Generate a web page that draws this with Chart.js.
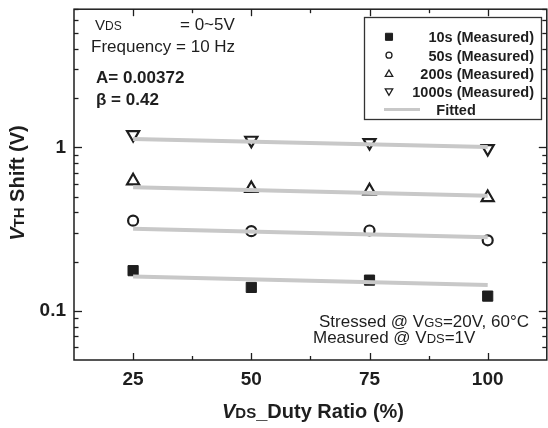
<!DOCTYPE html>
<html><head><meta charset="utf-8">
<script src="https://cdn.jsdelivr.net/npm/chart.js@4/dist/chart.umd.min.js"></script>
<style>
html,body{margin:0;padding:0;background:#fff;overflow:hidden;width:548px;height:428px}
#wrap{position:absolute;left:0;top:0;width:556px;height:428px}
</style>
</head><body><div id="wrap"><canvas id="c" width="556" height="428"></canvas></div>
<script>
// ---- data ----
const dutyRatio = [25, 50, 75, 100];
const measured10s = [0.176, 0.139, 0.154, 0.123];
const measured50s = [0.356, 0.307, 0.310, 0.270];
const measured200s = [0.624, 0.560, 0.542, 0.493];
const measured1000s = [1.197, 1.105, 1.070, 0.983];
const fitX = [25, 100];
const fit10s = [0.162, 0.144];
const fit50s = [0.318, 0.282];
const fit200s = [0.569, 0.505];
const fit1000s = [1.126, 1.006];
const xTickValues = [25, 50, 75, 100];
const xMinorTicks = [37.5, 62.5, 87.5];
const yTickValues = [0.1, 1];
const yMinorTicks = [0.06, 0.07, 0.08, 0.09, 0.2, 0.3, 0.4, 0.5, 0.6, 0.7, 0.8, 0.9, 2, 3, 4, 5, 6, 7];
const seriesLabels = ['10s (Measured)', '50s (Measured)', '200s (Measured)', '1000s (Measured)', 'Fitted'];

const FONT = '"Liberation Sans", Arial, Helvetica, sans-serif';
const INK = '#1e1e1e';
const FITC = '#c8c8c8';

const pts = (xs, ys) => xs.map((x, i) => ({x: x, y: ys[i]}));

const fitDs = (ys, lbl) => ({
  type: 'line', label: lbl, data: pts(fitX, ys), borderColor: FITC, borderWidth: 4,
  pointRadius: 0, showLine: true, fill: false, order: 0, borderCapStyle: 'butt'
});
const markerStyles = [
  {pointStyle: 'rect', pointRadius: 7.2, pointBackgroundColor: INK, pointBorderColor: INK, pointBorderWidth: 1, pointRotation: 0},
  {pointStyle: 'circle', pointRadius: 5, pointBackgroundColor: 'rgba(0,0,0,0)', pointBorderColor: INK, pointBorderWidth: 2.2, pointRotation: 0},
  {pointStyle: 'triangle', pointRadius: 7, pointBackgroundColor: 'rgba(0,0,0,0)', pointBorderColor: INK, pointBorderWidth: 2.2, pointRotation: 0},
  {pointStyle: 'triangle', pointRadius: 7, pointBackgroundColor: 'rgba(0,0,0,0)', pointBorderColor: INK, pointBorderWidth: 2.2, pointRotation: 180}
];
const measuredSets = [measured10s, measured50s, measured200s, measured1000s];
const ptDs = measuredSets.map((ys, i) => Object.assign({
  type: 'scatter', label: seriesLabels[i], data: pts(dutyRatio, ys), showLine: false, order: 1
}, markerStyles[i]));

function richWidth(ctx, parts) {
  let w = 0;
  for (const p of parts) { ctx.font = p.f; w += ctx.measureText(p.t).width; }
  return w;
}
function drawRich(ctx, parts, x, y, align) {
  let w = richWidth(ctx, parts);
  let cx = align === 'center' ? x - w / 2 : (align === 'right' ? x - w : x);
  ctx.textAlign = 'left';
  for (const p of parts) {
    ctx.font = p.f;
    ctx.fillText(p.t, cx, y + (p.dy || 0));
    cx += ctx.measureText(p.t).width;
  }
}

const deco = {
  id: 'deco',
  afterDatasetsDraw(chart) {
    const ctx = chart.ctx, a = chart.chartArea, xs = chart.scales.x, ys = chart.scales.y;
    ctx.save();
    ctx.strokeStyle = INK;
    const line = (x1, y1, x2, y2) => { ctx.beginPath(); ctx.moveTo(x1, y1); ctx.lineTo(x2, y2); ctx.stroke(); };
    // frame
    ctx.lineWidth = 1.5;
    ctx.strokeRect(a.left, a.top, a.right - a.left, a.bottom - a.top);
    ctx.lineWidth = 1.3;
    // x ticks (inward, top & bottom)
    for (const v of xTickValues) { const p = Math.round(xs.getPixelForValue(v)) + 0.5; line(p, a.bottom, p, a.bottom - 7); line(p, a.top, p, a.top + 7); }
    for (const v of xMinorTicks) { const p = Math.round(xs.getPixelForValue(v)) + 0.5; line(p, a.bottom, p, a.bottom - 4); line(p, a.top, p, a.top + 4); }
    // y ticks (inward, left & right)
    for (const v of yTickValues) { const p = Math.round(ys.getPixelForValue(v)) + 0.5; line(a.left, p, a.left + 8, p); line(a.right, p, a.right - 8, p); }
    for (const v of yMinorTicks) { const p = Math.round(ys.getPixelForValue(v)) + 0.5; line(a.left, p, a.left + 4.5, p); line(a.right, p, a.right - 4.5, p); }

    ctx.fillStyle = INK;
    ctx.textBaseline = 'alphabetic';
    // top-left annotations
    const R = s => s + 'px ' + FONT, B = s => 'bold ' + s + 'px ' + FONT, BI = s => 'italic bold ' + s + 'px ' + FONT;
    drawRich(ctx, [{t: 'V', f: R(15)}, {t: 'DS', f: R(12)}], 95, 30, 'left');
    drawRich(ctx, [{t: '= 0~5V', f: R(17)}], 180, 30, 'left');
    drawRich(ctx, [{t: 'Frequency = 10 Hz', f: R(17)}], 91, 51.5, 'left');
    drawRich(ctx, [{t: 'A= 0.00372', f: B(17)}], 96, 83, 'left');
    drawRich(ctx, [{t: '\u03B2 = 0.42', f: B(17)}], 96, 105, 'left');
    // bottom-right annotations
    drawRich(ctx, [{t: 'Stressed @ V', f: R(17)}, {t: 'GS', f: R(13)}, {t: '=20V, 60\u00B0C', f: R(17)}], 319, 326.5, 'left');
    drawRich(ctx, [{t: 'Measured @ V', f: R(17)}, {t: 'DS', f: R(13)}, {t: '=1V', f: R(17)}], 313, 343, 'left');

    // legend box
    ctx.fillStyle = '#fff';
    ctx.fillRect(364, 17, 178, 103);
    ctx.lineWidth = 1.3;
    ctx.strokeStyle = '#333';
    ctx.strokeRect(364.5, 17.5, 177, 102);
    ctx.fillStyle = INK; ctx.strokeStyle = INK;
    const rowsY = [42.3, 60.7, 79, 97.3, 115];
    const legMarkers = [
      {pointStyle: 'rect', radius: 5, rotation: 0, borderWidth: 1, fill: true},
      {pointStyle: 'circle', radius: 3, rotation: 0, borderWidth: 1.3, fill: false},
      {pointStyle: 'triangle', radius: 4.3, rotation: 0, borderWidth: 1.3, fill: false},
      {pointStyle: 'triangle', radius: 4.3, rotation: 180, borderWidth: 1.3, fill: false}
    ];
    for (let i = 0; i < 4; i++) {
      const m = legMarkers[i];
      ctx.fillStyle = m.fill ? INK : 'rgba(0,0,0,0)';
      ctx.strokeStyle = INK; ctx.lineWidth = m.borderWidth;
      Chart.helpers.drawPoint(ctx, m, 389, rowsY[i] - 5.5 + (i === 2 ? 0.8 : (i === 3 ? -0.8 : 0)));
    }
    ctx.fillStyle = INK;
    for (let i = 0; i < 4; i++) drawRich(ctx, [{t: seriesLabels[i], f: B(14.5)}], 534, rowsY[i], 'right');
    drawRich(ctx, [{t: seriesLabels[4], f: B(14.5)}], 456, rowsY[4], 'center');
    ctx.strokeStyle = FITC; ctx.lineWidth = 3;
    line(384, 109.5, 420, 109.5);

    // axis titles
    ctx.fillStyle = INK;
    drawRich(ctx, [{t: 'V', f: BI(20)}, {t: 'DS', f: B(15)}, {t: '_Duty Ratio (%)', f: B(20)}], 313, 418, 'center');
    ctx.save();
    ctx.translate(24, 183);
    ctx.rotate(-Math.PI / 2);
    drawRich(ctx, [{t: 'V', f: BI(20)}, {t: 'TH', f: B(15)}, {t: ' Shift (V)', f: B(20)}], 0, 0, 'center');
    ctx.restore();
    ctx.restore();
  }
};

new Chart(document.getElementById('c'), {
  type: 'scatter',
  data: {datasets: [fitDs(fit10s, 'Fitted'), fitDs(fit50s, 'Fitted'), fitDs(fit200s, 'Fitted'), fitDs(fit1000s, 'Fitted')].concat(ptDs)},
  options: {
    responsive: false, animation: false, devicePixelRatio: 1,
    layout: {padding: {top: 9, right: 6.5, left: 0, bottom: 0}},
    plugins: {legend: {display: false}, tooltip: {enabled: false}, title: {display: false}},
    scales: {
      x: {
        type: 'linear', min: 12.5, max: 112.5,
        grid: {display: false, drawTicks: false}, border: {display: false},
        afterBuildTicks: s => { s.ticks = xTickValues.map(v => ({value: v})); },
        afterFit: s => { s.height = 68; s.paddingLeft = 0; s.paddingRight = 0; },
        ticks: {padding: 8, color: INK, font: {family: FONT, size: 19, weight: 'bold'}, callback: v => String(v), maxRotation: 0, autoSkip: false}
      },
      y: {
        type: 'logarithmic', min: 0.05, max: 7,
        grid: {display: false, drawTicks: false}, border: {display: false},
        afterBuildTicks: s => { s.ticks = yTickValues.map(v => ({value: v})); },
        afterFit: s => { s.width = 74; s.paddingTop = 0; s.paddingBottom = 0; },
        ticks: {padding: 8, color: INK, font: {family: FONT, size: 19, weight: 'bold'}, callback: v => String(v), autoSkip: false}
      }
    }
  },
  plugins: [deco]
});
</script>
</body></html>
